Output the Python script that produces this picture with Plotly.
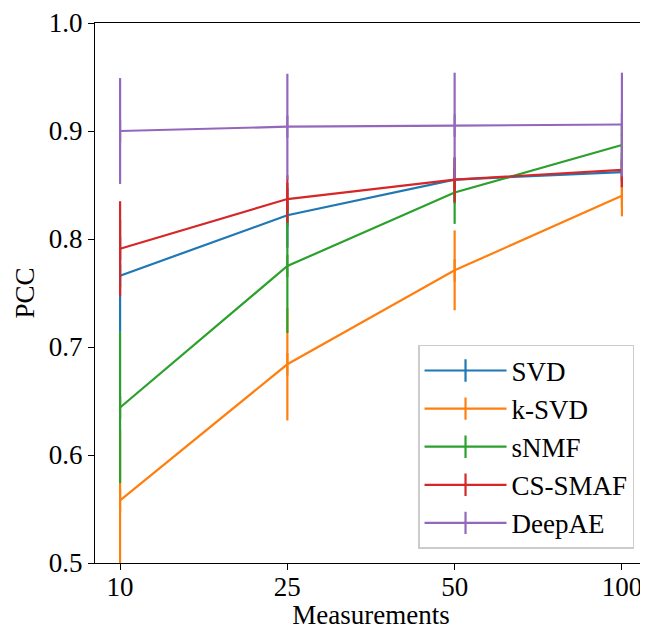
import plotly.graph_objects as go

measurements = ["10", "25", "50", "100"]
x_pos = [0, 1, 2, 3]

series_names = ["SVD", "k-SVD", "sNMF", "CS-SMAF", "DeepAE"]
svd = [0.766, 0.822, 0.855, 0.862]
svd_err = [0.052, 0.030, 0.020, 0.015]
ksvd = [0.558, 0.684, 0.771, 0.840]
ksvd_err = [0.065, 0.052, 0.037, 0.019]
snmf = [0.644, 0.775, 0.843, 0.887]
snmf_err = [0.070, 0.062, 0.029, 0.020]
cssmaf = [0.791, 0.837, 0.855, 0.864]
cssmaf_err = [0.044, 0.022, 0.021, 0.016]
deepae = [0.900, 0.904, 0.905, 0.906]
deepae_err = [0.049, 0.049, 0.049, 0.048]

values = [svd, ksvd, snmf, cssmaf, deepae]
errors = [svd_err, ksvd_err, snmf_err, cssmaf_err, deepae_err]
colors = ["#1f77b4", "#ff7f0e", "#2ca02c", "#d62728", "#9467bd"]

fig = go.Figure()
for name, v, e, c in zip(series_names, values, errors, colors):
    fig.add_trace(go.Scatter(
        x=x_pos, y=v, name=name, mode="lines+markers", legendgroup=name,
        line=dict(color=c, width=2.2),
        marker=dict(symbol="line-ns-open", size=16,
                    line=dict(color=c, width=2.2)),
        error_y=dict(type="data", array=e, visible=True, width=0,
                     thickness=2.2, color=c),
    ))

font = "Liberation Serif, Times New Roman, serif"
fs = 27
fig.update_layout(
    width=640, height=622,
    margin=dict(l=87, r=1, t=15, b=67),
    plot_bgcolor="white", paper_bgcolor="white",
    font=dict(family=font, size=fs, color="black"),
    showlegend=True,
    legend=dict(
        x=0.9765, y=0.026, xanchor="right", yanchor="bottom",
        bgcolor="rgba(255,255,255,0.8)", bordercolor="#cccccc", borderwidth=1.5,
        font=dict(family=font, size=fs, color="black"),
        tracegroupgap=0, itemwidth=82,
    ),
    xaxis=dict(
        range=[-0.15, 3.15], tickmode="array", tickvals=x_pos,
        ticktext=measurements, showgrid=False, zeroline=False,
        showline=True, linecolor="black", linewidth=1.3, mirror=True,
        ticks="outside", ticklen=6, tickwidth=1.3, tickcolor="black",
        ticklabelstandoff=-7, automargin=False,
        title=dict(text="Measurements", standoff=18,
                   font=dict(family=font, size=fs)),
        tickfont=dict(family=font, size=fs),
    ),
    yaxis=dict(
        range=[0.5, 1.0], tickmode="array",
        tickvals=[0.5, 0.6, 0.7, 0.8, 0.9, 1.0],
        ticktext=["0.5", "0.6", "0.7", "0.8", "0.9", "1.0"],
        showgrid=False, zeroline=False,
        showline=True, linecolor="black", linewidth=1.3, mirror=True,
        ticks="outside", ticklen=6, tickwidth=1.3, tickcolor="black",
        automargin=False,
        title=dict(text="PCC", standoff=6, font=dict(family=font, size=fs)),
        tickfont=dict(family=font, size=fs),
    ),
)

fig.write_html("out.html")
